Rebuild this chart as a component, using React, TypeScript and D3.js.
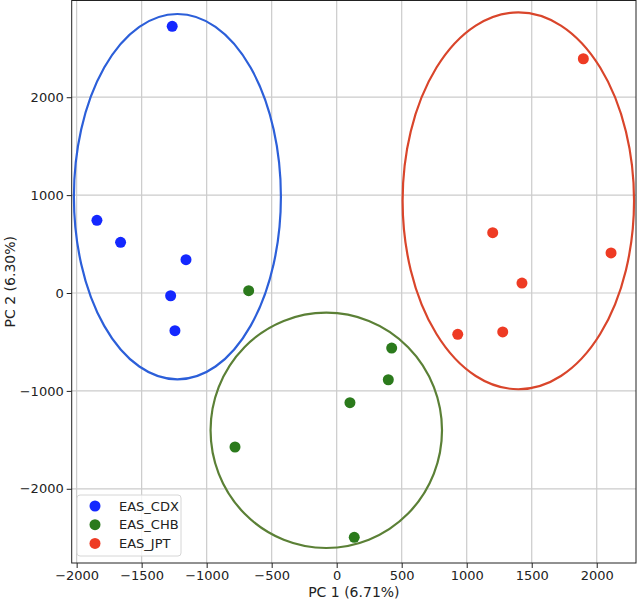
import React, { useEffect, useRef } from 'react';
import * as d3 from 'd3';

// PCA scores per population
const groups = ['EAS_CDX', 'EAS_CHB', 'EAS_JPT'];
const cdxPc1 = [-1265, -1844, -1662, -1159, -1277, -1244];
const cdxPc2 = [2724, 742, 518, 340, -28, -385];
const chbPc1 = [-677, 423, 397, 102, -782, 135];
const chbPc2 = [24, -562, -886, -1120, -1573, -2496];
const jptPc1 = [1897, 1200, 2110, 1425, 931, 1277];
const jptPc2 = [2393, 616, 409, 102, -422, -398];

// confidence ellipses: center pc1, center pc2, radius pc1, radius pc2
const ellipseCx = [-1225, -80, 1397];
const ellipseCy = [984, -1403, 942];
const ellipseRx = [796, 890, 890];
const ellipseRy = [1866, 1202, 1925];

const xTicks = [-2000, -1500, -1000, -500, 0, 500, 1000, 1500, 2000];
const yTicks = [-2000, -1000, 0, 1000, 2000];

const pointColors = ['#1428ff', '#2b7a1c', '#ee3b24'];
const ellipseColors = ['#2c5fd9', '#5b8036', '#d9452b'];

const App = () => {
    const svgRef = useRef(null);

    useEffect(() => {
        const svg = d3.select(svgRef.current);
        svg.selectAll('*').remove();

        const left = 71.7, right = 636, top = 0.5, bottom = 563;
        const font = 'DejaVu Sans, sans-serif';

        const x = d3.scaleLinear().domain([-2038, 2302]).range([left, right]);
        const y = d3.scaleLinear().domain([-2758, 2988]).range([bottom, top]);

        svg.append('defs').append('clipPath').attr('id', 'plotclip')
            .append('rect')
            .attr('x', left).attr('y', top)
            .attr('width', right - left).attr('height', bottom - top);

        // grid
        const grid = svg.append('g');
        xTicks.forEach((t) => {
            grid.append('line')
                .attr('x1', x(t)).attr('x2', x(t))
                .attr('y1', top).attr('y2', bottom)
                .attr('stroke', '#cbcbcb').attr('stroke-width', 1.2);
        });
        yTicks.forEach((t) => {
            grid.append('line')
                .attr('x1', left).attr('x2', right)
                .attr('y1', y(t)).attr('y2', y(t))
                .attr('stroke', '#cbcbcb').attr('stroke-width', 1.2);
        });

        const plot = svg.append('g').attr('clip-path', 'url(#plotclip)');

        const series = [
            cdxPc1.map((v, i) => [v, cdxPc2[i]]),
            chbPc1.map((v, i) => [v, chbPc2[i]]),
            jptPc1.map((v, i) => [v, jptPc2[i]]),
        ];

        series.forEach((pts, gi) => {
            plot.selectAll(null)
                .data(pts)
                .enter()
                .append('circle')
                .attr('cx', (d) => x(d[0]))
                .attr('cy', (d) => y(d[1]))
                .attr('r', 5.5)
                .attr('fill', pointColors[gi]);
        });

        groups.forEach((g, gi) => {
            plot.append('ellipse')
                .attr('cx', x(ellipseCx[gi]))
                .attr('cy', y(ellipseCy[gi]))
                .attr('rx', x(ellipseRx[gi]) - x(0))
                .attr('ry', y(0) - y(ellipseRy[gi]))
                .attr('fill', 'none')
                .attr('stroke', ellipseColors[gi])
                .attr('stroke-width', 2.2);
        });

        // axes
        const xAxis = svg.append('g')
            .attr('transform', `translate(0,${bottom})`)
            .call(d3.axisBottom(x).tickValues(xTicks).tickSize(5).tickPadding(3)
                .tickFormat((d) => d3.format('d')(d).replace('-', '\u2212')));
        const yAxis = svg.append('g')
            .attr('transform', `translate(${left},0)`)
            .call(d3.axisLeft(y).tickValues(yTicks).tickSize(5).tickPadding(3)
                .tickFormat((d) => d3.format('d')(d).replace('-', '\u2212')));
        [xAxis, yAxis].forEach((a) => {
            a.select('.domain').remove();
            a.selectAll('line').attr('stroke', '#222');
            a.selectAll('text')
                .attr('font-family', font)
                .attr('font-size', 13)
                .attr('fill', '#222');
        });

        svg.append('rect')
            .attr('x', left).attr('y', top)
            .attr('width', right - left).attr('height', bottom - top)
            .attr('fill', 'none').attr('stroke', '#222').attr('stroke-width', 1);

        svg.append('text')
            .attr('x', (left + right) / 2).attr('y', 597)
            .attr('text-anchor', 'middle')
            .attr('font-family', font).attr('font-size', 14).attr('fill', '#222')
            .text('PC 1 (6.71%)');
        svg.append('text')
            .attr('transform', `translate(15,${(top + bottom) / 2}) rotate(-90)`)
            .attr('text-anchor', 'middle')
            .attr('font-family', font).attr('font-size', 14).attr('fill', '#222')
            .text('PC 2 (6.30%)');

        // legend
        const legend = svg.append('g');
        legend.append('rect')
            .attr('x', 77).attr('y', 495)
            .attr('width', 104).attr('height', 61)
            .attr('rx', 3)
            .attr('fill', 'white').attr('fill-opacity', 0.8)
            .attr('stroke', '#d6d6d6');
        groups.forEach((g, gi) => {
            const ly = 506 + gi * 18.7;
            legend.append('circle')
                .attr('cx', 95).attr('cy', ly).attr('r', 5.5)
                .attr('fill', pointColors[gi]);
            legend.append('text')
                .attr('x', 119).attr('y', ly + 4.5)
                .attr('font-family', font).attr('font-size', 13).attr('fill', '#222')
                .text(g);
        });
    }, []);

    return (
        <svg ref={svgRef} width={638} height={602}
            style={{ position: 'absolute', left: 0, top: 0, background: 'white' }}></svg>
    );
};

export default App;
